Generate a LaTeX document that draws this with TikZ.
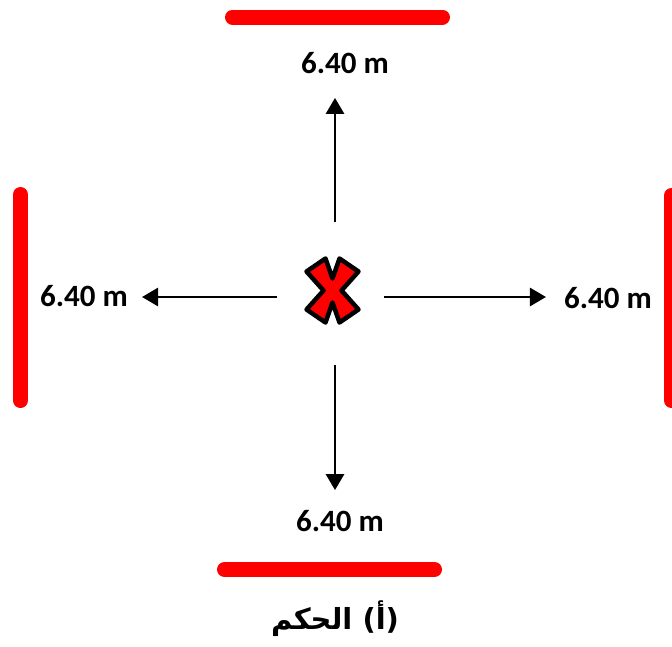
\documentclass[tikz,border=0pt]{standalone}
\usepackage{fontspec}
\usepackage{tikz}
\usetikzlibrary{calc}
\usetikzlibrary{positioning}
\usetikzlibrary{arrows.meta}
\setmainfont{Carlito}
\newfontfamily\arabicfont[Script=Arabic]{DejaVu Sans}
\TeXXeTstate=1

\begin{document}
\begin{tikzpicture}[
		x=1pt, y=-1pt,
		bar/.style={red, line width=15pt, line cap=round},
		dim/.style={-{Triangle[length=16pt,width=18pt]}, line width=2.8pt},
		lab/.style={font=\bfseries\fontsize{31}{36}\selectfont, inner sep=0pt},
		crossmark/.style={fill=red, draw=black, line width=4.5pt, line join=round}
		]
		\useasboundingbox (0,0) rectangle (672,646);
		
		% Half sizes of the cross
		\def\xa{26}
		\def\xb{32}
		
		% Red limit bars
		\coordinate (t1) at (232.5,17);   \coordinate (t2) at (442.5,17);
		\coordinate (b1) at (224.5,569.5); \coordinate (b2) at (434.5,569.5);
		\coordinate (l1) at (20.5,194.5); \coordinate (l2) at (20.5,400.5);
		\coordinate (r1) at (671.5,195.5); \coordinate (r2) at (671.5,400.5);
		\draw[bar] (t1)--(t2);
		\draw[bar] (b1)--(b2);
		\draw[bar] (l1)--(l2);
		\draw[bar] (r1)--(r2);
		
		% Referee mark
		\coordinate (ref) at (332.5,290.5);
		\draw[crossmark, shift={(ref)}]
			(-\xa,-\xb+13) -- (-\xa+19,-\xb) -- (0,-12) -- (\xa-19,-\xb) -- (\xa,-\xb+13)
			-- (9,0) -- (\xa,\xb-13) -- (\xa-19,\xb) -- (0,12) -- (-\xa+19,\xb)
			-- (-\xa,\xb-13) -- (-9,0) -- cycle;
		
		% Distance labels
		\node[lab] (nTop)   at (345,63)  {6.40 m};
		\node[lab] (nBot)   at (340,521) {6.40 m};
		\node[lab] (nLeft)  at (84,296)  {6.40 m};
		\node[lab] (nRight) at (608,298) {6.40 m};
		
		% Arrow tails
		\coordinate (aUp)    at (335,222);
		\coordinate (aDown)  at (335,365);
		\coordinate (aLeft)  at (277,297);
		\coordinate (aRight) at (384,297);
		
		\draw[dim, shorten >=24pt] (aUp)    -- (aUp |- nTop.south);
		\draw[dim, shorten >=20pt] (aDown)  -- (aDown |- nBot.north);
		\draw[dim, shorten >=14pt] (aLeft)  -- (aLeft -| nLeft.east);
		\draw[dim, shorten >=18pt] (aRight) -- (aRight -| nRight.west);
		
		% Caption
		\node[font=\arabicfont\bfseries\fontsize{29}{34}\selectfont] (cap) at (335,619) {\beginR (أ) الحكم\endR};
		
	\end{tikzpicture}
\end{document}
